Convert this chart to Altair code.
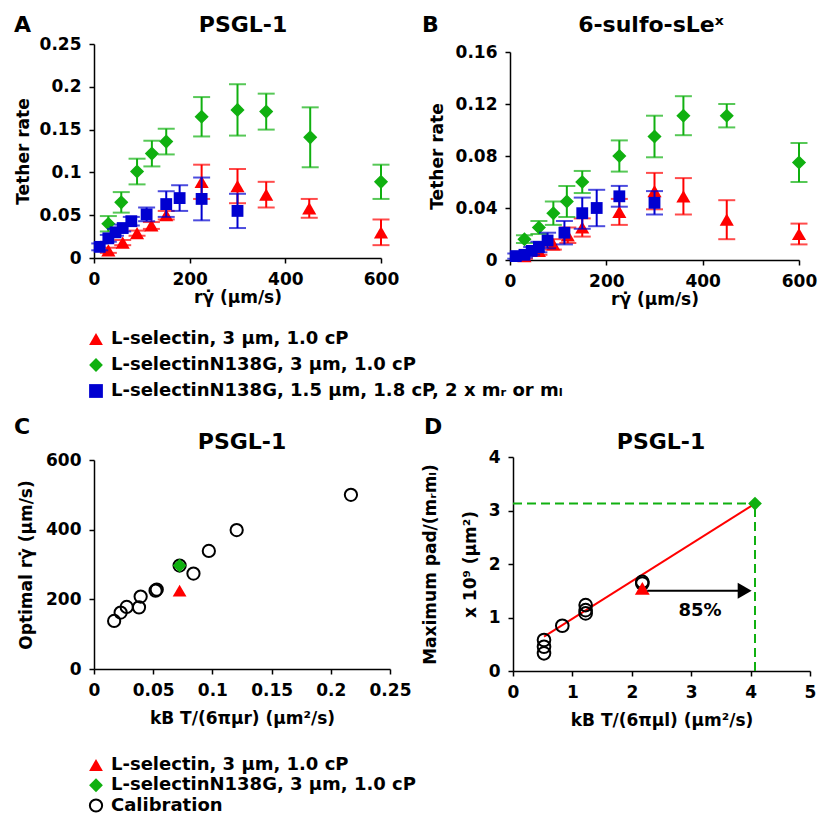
import altair as alt
import pandas as pd

FONT = "DejaVu Sans"
RED = "#ff0000"
GREEN = "#10b010"
BLUE = "#0000d0"

# ---------------- Panel A : PSGL-1, tether rate ----------------
a_red_x = [30, 60, 90, 120, 151, 225, 300, 360, 450, 600]
a_red_y = [0.009, 0.018, 0.029, 0.038, 0.050, 0.089, 0.084, 0.074, 0.058, 0.030]
a_red_e = [0.003, 0.003, 0.003, 0.004, 0.005, 0.020, 0.020, 0.015, 0.011, 0.015]
a_green_x = [30, 57, 90, 121, 151, 225, 300, 360, 452, 600]
a_green_y = [0.040, 0.065, 0.101, 0.122, 0.136, 0.165, 0.173, 0.171, 0.141, 0.089]
a_green_e = [0.009, 0.012, 0.015, 0.015, 0.015, 0.023, 0.030, 0.021, 0.035, 0.020]
a_blue_x = [12, 30, 45, 60, 78, 110, 151, 179, 225, 300]
a_blue_y = [0.013, 0.023, 0.030, 0.035, 0.043, 0.051, 0.063, 0.070, 0.069, 0.055]
a_blue_e = [0.004, 0.004, 0.004, 0.004, 0.005, 0.008, 0.015, 0.015, 0.025, 0.020]

# ---------------- Panel B : 6-sulfo-sLex, tether rate ----------------
b_red_x = [30, 60, 90, 120, 150, 227, 300, 360, 450, 600]
b_red_y = [0.003, 0.007, 0.012, 0.019, 0.025, 0.037, 0.053, 0.049, 0.031, 0.020]
b_red_e = [0.002, 0.003, 0.004, 0.006, 0.007, 0.010, 0.014, 0.014, 0.015, 0.008]
b_green_x = [30, 60, 90, 118, 150, 227, 300, 360, 450, 600]
b_green_y = [0.016, 0.025, 0.036, 0.045, 0.060, 0.080, 0.095, 0.111, 0.111, 0.075]
b_green_e = [0.003, 0.005, 0.009, 0.012, 0.0085, 0.012, 0.016, 0.015, 0.009, 0.015]
b_blue_x = [12, 30, 45, 60, 78, 113, 150, 180, 227, 300]
b_blue_y = [0.003, 0.004, 0.007, 0.010, 0.015, 0.021, 0.036, 0.040, 0.049, 0.044]
b_blue_e = [0.002, 0.002, 0.003, 0.004, 0.006, 0.009, 0.012, 0.014, 0.008, 0.009]

# ---------------- Panel C : optimal shear ----------------
c_cal_x = [0.017, 0.0225, 0.0276, 0.038, 0.0394, 0.052, 0.053, 0.0723, 0.084, 0.097, 0.1205, 0.217]
c_cal_y = [138, 162, 178, 177, 208, 225, 228, 297, 274, 339, 399, 500]
c_red_x, c_red_y = [0.0723], [225]
c_green_x, c_green_y = [0.0723], [297]

# ---------------- Panel D : maximum adhesion probability ----------------
d_cal_x = [0.522, 0.522, 0.522, 0.83, 1.223, 1.223, 1.223, 2.177, 2.177]
d_cal_y = [0.33, 0.454, 0.579, 0.846, 1.232, 1.138, 1.076, 1.667, 1.636]
d_red_x, d_red_y = [2.177], [1.543]
d_green_x, d_green_y = [4.074], [3.13]
d_fit_x = [0.522, 4.074]
d_fit_y = [0.641, 3.129]
d_arrow_x = [2.26, 3.90]
d_arrow_y = [1.5, 1.5]
d_note = ["85%"]
d_note_x, d_note_y = [3.15], [1.13]

legend_ab = ["L-selectin, 3 μm, 1.0 cP",
             "L-selectinN138G, 3 μm, 1.0 cP",
             "L-selectinN138G, 1.5 μm, 1.8 cP, 2 x mᵣ or mₗ"]
legend_c = ["L-selectin, 3 μm, 1.0 cP",
            "L-selectinN138G, 3 μm, 1.0 cP",
            "Calibration"]


def encoders(xdom, xticks, xtitle, ydom, yticks, ytitle, xtpad, ytpad, yrange=None, ylh=None):
    xs = alt.Scale(domain=xdom, nice=False, zero=False)
    if yrange is None:
        ys = alt.Scale(domain=ydom, nice=False, zero=False)
    else:
        ys = alt.Scale(domain=ydom, nice=False, zero=False, range=yrange)
    xa = alt.Axis(values=xticks, title=xtitle, format="~r", titlePadding=xtpad)
    if ylh is None:
        ya = alt.Axis(values=yticks, title=ytitle, format="~r", titlePadding=ytpad)
    else:
        ya = alt.Axis(values=yticks, title=ytitle, format="~r", titlePadding=ytpad, titleLineHeight=ylh)

    def X(f):
        return alt.X(f"{f}:Q", scale=xs, axis=xa)

    def Y(f):
        return alt.Y(f"{f}:Q", scale=ys, axis=ya)
    return X, Y


def series(X, Y, xv, yv, ev, color, shape, size, cap=17):
    df = pd.DataFrame({"x": xv, "y": yv})
    df["lo"] = [a - b for a, b in zip(yv, ev)]
    df["hi"] = [a + b for a, b in zip(yv, ev)]
    base = alt.Chart(df)
    bar = base.mark_rule(color=color, strokeWidth=2).encode(x=X("x"), y=Y("lo"), y2="hi:Q")
    t1 = base.mark_tick(color=color, orient="horizontal", size=cap, thickness=2).encode(x=X("x"), y=Y("hi"))
    t2 = base.mark_tick(color=color, orient="horizontal", size=cap, thickness=2).encode(x=X("x"), y=Y("lo"))
    pts = base.mark_point(shape=shape, filled=True, color=color, size=size, opacity=1).encode(x=X("x"), y=Y("y"))
    return [bar, t1, t2, pts]


def label(txt, dx, dy, align="left"):
    return alt.Chart(pd.DataFrame({"t": [txt]})).mark_text(
        align=align, baseline="top", font=FONT, fontSize=22, fontWeight="bold", color="black"
    ).encode(text="t:N", x=alt.value(dx), y=alt.value(dy))


XTITLE = "rγ̇ (μm/s)"

# Panel A
XA, YA = encoders([0, 600], [0, 200, 400, 600], XTITLE, [0, 0.25],
                  [0, 0.05, 0.1, 0.15, 0.2, 0.25], "Tether rate", 2, 7)
layers_a = (series(XA, YA, a_red_x, a_red_y, a_red_e, RED, "triangle-up", 200)
            + series(XA, YA, a_green_x, a_green_y, a_green_e, GREEN, "diamond", 200)
            + series(XA, YA, a_blue_x, a_blue_y, a_blue_e, BLUE, "square", 140)
            + [label("A", -80, -29), label("PSGL-1", 149, -29, "center")])
panel_a = alt.layer(*layers_a).properties(width=287, height=214)

# Panel B (plot area starts 8px lower than A's)
XB, YB = encoders([0, 600], [0, 200, 400, 600], XTITLE, [0, 0.16],
                  [0, 0.04, 0.08, 0.12, 0.16], "Tether rate", 2, 9, yrange=[216, 8])
layers_b = (series(XB, YB, b_red_x, b_red_y, b_red_e, RED, "triangle-up", 200)
            + series(XB, YB, b_green_x, b_green_y, b_green_e, GREEN, "diamond", 200)
            + series(XB, YB, b_blue_x, b_blue_y, b_blue_e, BLUE, "square", 140)
            + [label("B", -88, -29), label("6-sulfo-sLeˣ", 141, -29, "center")])
panel_b = alt.layer(*layers_b).properties(width=289, height=216)

# Panel C
XC, YC = encoders([0, 0.25], [0, 0.05, 0.1, 0.15, 0.2, 0.25], "kB T/(6πμr) (μm²/s)",
                  [0, 600], [0, 200, 400, 600], "Optimal rγ̇ (μm/s)", 12, 10, yrange=[212, 3])
cal_c = alt.Chart(pd.DataFrame({"x": c_cal_x, "y": c_cal_y})).mark_point(
    shape="circle", filled=False, color="black", strokeWidth=2, size=150, opacity=1
).encode(x=XC("x"), y=YC("y"))
red_c = alt.Chart(pd.DataFrame({"x": c_red_x, "y": c_red_y})).mark_point(
    shape="triangle-up", filled=True, color=RED, size=190, opacity=1).encode(x=XC("x"), y=YC("y"))
green_c = alt.Chart(pd.DataFrame({"x": c_green_x, "y": c_green_y})).mark_point(
    shape="diamond", filled=True, color=GREEN, size=190, opacity=1).encode(x=XC("x"), y=YC("y"))
panel_c = alt.layer(cal_c, red_c, green_c, label("C", -80, -40),
                    label("PSGL-1", 148, -25, "center")).properties(width=296, height=212)

# Panel D
XD, YD = encoders([0, 5], [0, 1, 2, 3, 4, 5], "kB T/(6πμl) (μm²/s)",
                  [0, 4], [0, 1, 2, 3, 4], ["Maximum pad/(mᵣmₗ)", "x 10⁹ (μm²)"], 12, 9, ylh=40)
dgreen = pd.DataFrame({"x": d_green_x, "y": d_green_y, "zero": [0]})
hdash = alt.Chart(dgreen).mark_rule(color=GREEN, strokeWidth=2, strokeDash=[9, 5]).encode(
    x=XD("zero"), x2="x:Q", y=YD("y"))
vdash = alt.Chart(dgreen).mark_rule(color=GREEN, strokeWidth=2, strokeDash=[9, 5]).encode(
    x=XD("x"), y=YD("zero"), y2="y:Q")
fit = alt.Chart(pd.DataFrame({"x": d_fit_x, "y": d_fit_y})).mark_line(color=RED, strokeWidth=2).encode(
    x=XD("x"), y=YD("y"))
cal_d = alt.Chart(pd.DataFrame({"x": d_cal_x, "y": d_cal_y})).mark_point(
    shape="circle", filled=False, color="black", strokeWidth=2, size=160, opacity=1
).encode(x=XD("x"), y=YD("y"))
red_d = alt.Chart(pd.DataFrame({"x": d_red_x, "y": d_red_y})).mark_point(
    shape="triangle-up", filled=True, color=RED, size=220, opacity=1).encode(x=XD("x"), y=YD("y"))
green_d = alt.Chart(dgreen).mark_point(
    shape="diamond", filled=True, color=GREEN, size=190, opacity=1).encode(x=XD("x"), y=YD("y"))
arrow_df = pd.DataFrame({"x": d_arrow_x, "y": d_arrow_y})
arrow_line = alt.Chart(arrow_df).mark_line(color="black", strokeWidth=2).encode(x=XD("x"), y=YD("y"))
arrow_head = alt.Chart(arrow_df.tail(1)).mark_point(
    shape="triangle-right", filled=True, color="black", size=260, opacity=1).encode(x=XD("x"), y=YD("y"))
note = alt.Chart(pd.DataFrame({"x": d_note_x, "y": d_note_y, "t": d_note})).mark_text(
    font=FONT, fontSize=18, fontWeight="bold", color="black").encode(x=XD("x"), y=YD("y"), text="t:N")
panel_d = alt.layer(hdash, vdash, fit, cal_d, red_d, green_d, arrow_line, arrow_head, note,
                    label("D", -89, -40), label("PSGL-1", 148, -25, "center")).properties(width=297, height=214)


def legend_chart(labels, filled_shapes, filled_colors, yrange, height, open_label=None):
    n = len(labels)
    ysc = alt.Scale(domain=[0, n - 1], range=yrange, nice=False, zero=False)
    df = pd.DataFrame({"label": labels, "i": list(range(n))})
    nf = len(filled_shapes)
    filled_labels = labels[:nf]
    pts = alt.Chart(df.head(nf)).mark_point(filled=True, size=190, opacity=1).encode(
        x=alt.value(2),
        y=alt.Y("i:Q", scale=ysc, axis=None),
        shape=alt.Shape("label:N", scale=alt.Scale(domain=filled_labels, range=filled_shapes), legend=None),
        color=alt.Color("label:N", scale=alt.Scale(domain=filled_labels, range=filled_colors), legend=None),
    )
    layers = [pts]
    if open_label is not None:
        layers.append(alt.Chart(df.tail(n - nf)).mark_point(
            shape="circle", filled=False, color="black", strokeWidth=2, size=150, opacity=1
        ).encode(x=alt.value(2), y=alt.Y("i:Q", scale=ysc, axis=None)))
    txt = alt.Chart(df).mark_text(
        align="left", baseline="middle", font=FONT, fontSize=18, fontWeight="bold", color="black"
    ).encode(x=alt.value(17), y=alt.Y("i:Q", scale=ysc, axis=None), text="label:N")
    layers.append(txt)
    return alt.layer(*layers).properties(width=420, height=height)


leg_ab = legend_chart(legend_ab, ["triangle-up", "diamond", "square"], [RED, GREEN, BLUE], [13, 65], 78)
leg_c = legend_chart(legend_c, ["triangle-up", "diamond"], [RED, GREEN], [8, 48.5], 52,
                     open_label="Calibration")

top = alt.vconcat(alt.hconcat(panel_a, panel_b, spacing=23), leg_ab, spacing=19)
bottom = alt.vconcat(alt.hconcat(panel_c, panel_d, spacing=10), leg_c, spacing=28)

chart = alt.vconcat(top, bottom, spacing=12).resolve_scale(
    shape="independent", color="independent"
).properties(
    padding={"left": 6, "top": 6, "right": 5, "bottom": 0}
).configure_axis(
    labelFont=FONT, labelFontSize=17, labelFontWeight="bold", labelColor="black",
    titleFont=FONT, titleFontSize=17, titleFontWeight="bold", titleColor="black",
    domainColor="black", domainWidth=1.5, tickColor="black", tickWidth=1.5, tickSize=5,
    grid=False, labelPadding=8, labelFlush=False, labelOverlap=False,
).configure_view(stroke=None)

chart.save("out.html", embed_options={"renderer": "svg", "actions": False})
